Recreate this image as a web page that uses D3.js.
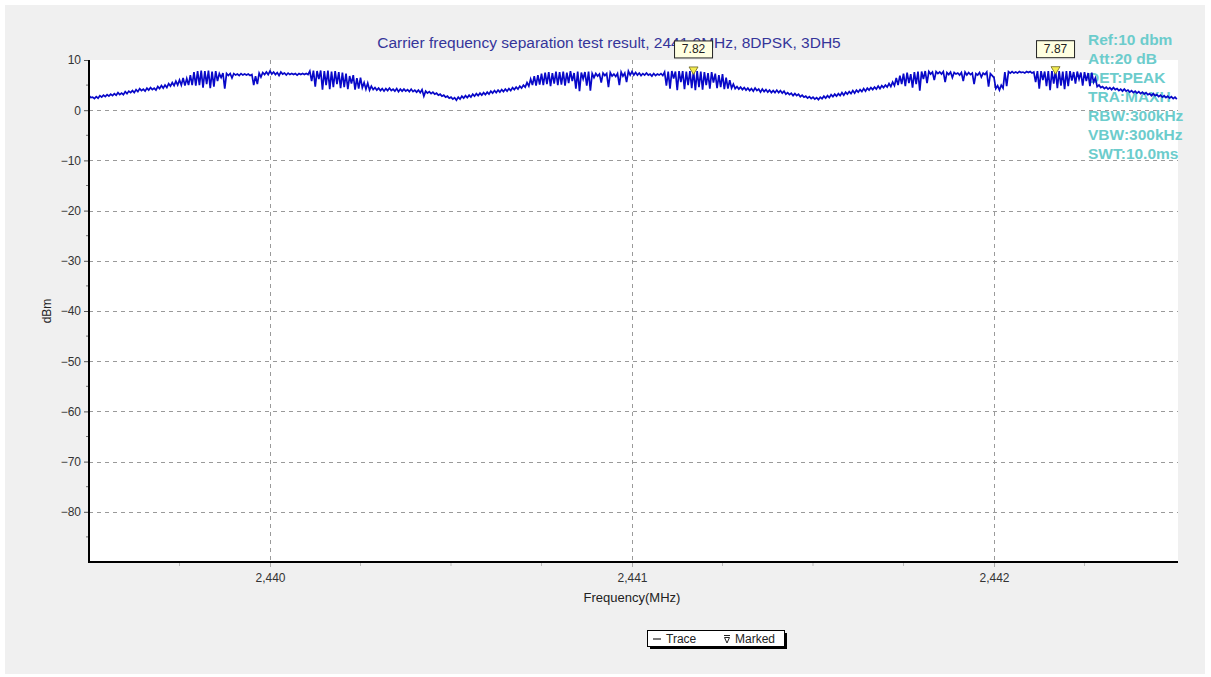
<!DOCTYPE html>
<html>
<head>
<meta charset="utf-8">
<script src="https://cdn.jsdelivr.net/npm/d3@7"></script>
<style>
  body { margin: 0; background: #ffffff; }
  svg { display: block; }
  text { font-family: Arial, "Liberation Sans", sans-serif; }
</style>
</head>
<body>
<svg id="chart" width="1211" height="677"></svg>
<script>
// Sweep: one bin every 10 kHz starting at 2439.50 MHz
const freqStart = 2439.5;
const freqStep = 0.01;

// Per-bin peak (high) and trough (low) levels of the max-hold trace, dBm
const traceHigh = [
  2.9,2.6,2.7,2.9,3.0,3.1,3.2,3.3,3.5,3.4,
  3.7,3.8,3.9,4.1,4.3,4.2,4.4,4.5,4.4,4.7,
  4.9,5.0,5.3,5.5,5.8,6.0,6.4,6.3,7.0,7.6,
  7.8,7.9,7.8,7.9,7.7,7.8,7.3,7.4,7.3,7.3,
  7.3,7.2,7.3,7.2,7.2,7.1,6.8,7.4,7.5,7.6,
  7.8,7.6,7.5,7.6,7.4,7.4,7.3,7.3,7.3,7.3,
  7.3,7.8,7.9,7.8,7.9,7.8,7.9,7.7,7.8,7.6,
  7.5,7.3,6.8,7.0,6.4,6.5,5.5,5.4,4.8,4.5,
  4.4,4.3,4.3,4.4,4.2,4.3,4.2,4.2,4.1,4.2,
  4.0,4.0,4.1,3.8,3.7,3.6,3.4,3.2,3.0,2.8,
  2.6,2.5,2.6,2.8,2.9,3.0,3.2,3.3,3.4,3.5,
  3.6,3.8,3.9,4.0,4.1,4.2,4.3,4.5,4.6,4.8,
  5.0,5.5,6.2,6.8,7.0,7.3,7.5,7.6,7.4,7.7,
  7.6,7.7,7.5,7.8,7.4,7.7,7.5,7.6,7.7,7.3,
  7.3,7.2,7.4,7.3,7.5,7.2,7.3,7.6,7.4,7.8,
  7.7,7.5,7.4,7.3,7.4,7.2,7.3,7.2,7.3,7.6,
  7.7,7.8,7.7,7.8,7.8,7.7,7.8,7.82,7.8,7.7,
  7.6,7.4,7.6,7.3,7.0,7.2,6.5,6.0,5.2,4.7,
  4.6,4.5,4.4,4.3,4.4,4.2,4.2,4.1,4.0,3.9,
  4.0,3.9,3.8,3.5,3.4,3.3,3.2,3.0,2.8,2.7,
  2.6,2.5,2.6,2.8,2.9,3.1,3.2,3.3,3.5,3.6,
  3.7,3.9,4.0,4.1,4.3,4.4,4.5,4.6,4.8,4.9,
  5.0,5.3,5.6,6.4,6.9,7.3,7.5,7.2,7.6,7.7,
  7.7,7.8,7.7,7.6,7.7,7.6,7.7,7.5,7.6,7.5,
  7.4,7.5,7.6,7.5,7.4,7.3,7.5,7.4,7.6,7.3,
  6.5,4.9,5.0,7.6,7.7,7.7,7.6,7.7,7.6,7.7,
  7.7,7.6,7.8,7.8,7.7,7.8,7.8,7.87,7.8,7.7,
  7.8,7.8,7.6,7.7,7.5,7.6,7.4,7.5,6.4,5.0,
  4.7,4.6,4.5,4.5,4.3,4.2,4.2,4.0,3.9,3.8,
  3.7,3.6,3.5,3.3,3.3,3.1,3.0,2.9,2.8,2.7,2.6
];
const traceLow = [
  2.5,2.3,2.4,2.6,2.7,2.8,2.9,3.0,3.1,3.1,
  3.3,3.5,3.5,3.7,3.9,3.8,4.0,4.1,4.0,4.3,
  4.4,4.5,4.8,4.9,5.0,5.0,4.9,5.0,5.0,4.9,
  5.0,4.5,5.2,4.4,4.7,5.8,6.5,4.3,6.9,6.4,
  7.0,6.9,7.0,7.0,6.9,5.0,5.2,6.6,7.1,7.1,
  7.2,7.1,6.9,7.2,7.0,7.1,7.1,7.0,7.1,7.1,
  7.1,5.8,4.7,6.2,4.1,5.0,4.2,4.6,5.2,4.4,
  4.6,4.2,5.3,4.1,4.3,4.5,4.2,4.0,4.1,4.0,
  3.9,3.8,3.9,3.9,3.8,3.7,3.8,3.8,3.7,3.7,
  3.6,3.5,2.8,3.4,3.3,3.2,3.0,2.8,2.6,2.4,
  2.2,2.0,2.2,2.4,2.5,2.6,2.8,2.9,3.0,3.1,
  3.2,3.4,3.5,3.6,3.7,3.8,3.9,4.1,4.2,4.4,
  4.6,4.8,5.0,4.9,5.1,5.0,5.2,4.8,5.3,5.0,
  5.1,4.9,5.4,5.8,4.3,3.8,6.2,4.9,3.9,6.5,
  6.8,5.5,6.9,4.6,6.8,6.7,5.0,6.8,5.6,7.0,
  7.0,7.0,6.9,7.0,7.0,6.8,6.9,7.0,6.9,4.9,
  4.3,6.3,4.0,5.6,4.2,5.0,4.4,4.0,4.6,4.1,
  5.0,4.3,5.5,4.4,4.6,4.2,4.3,4.4,4.3,4.2,
  4.1,4.0,3.9,3.8,3.9,3.6,3.7,3.6,3.5,3.5,
  3.5,3.4,3.2,3.1,2.9,2.9,2.7,2.6,2.4,2.3,
  2.2,2.1,2.3,2.4,2.5,2.7,2.8,2.9,3.0,3.2,
  3.3,3.4,3.6,3.7,3.8,4.0,4.1,4.2,4.3,4.5,
  4.6,4.7,4.9,5.0,5.2,4.8,5.4,4.5,5.2,3.9,
  6.2,5.4,7.2,6.0,7.3,7.2,5.6,7.1,6.5,7.2,
  7.0,5.8,7.0,7.1,5.2,7.0,6.6,7.1,4.7,6.9,
  4.3,4.0,4.4,4.8,7.4,7.4,7.4,7.5,7.4,7.5,
  7.4,5.6,4.3,6.0,4.8,4.0,5.3,4.4,4.9,4.2,
  4.8,5.9,5.3,6.2,4.9,5.8,4.8,5.6,4.7,4.5,
  4.3,4.2,4.1,4.1,3.9,3.8,3.8,3.6,3.5,3.4,
  3.3,3.2,3.1,2.9,2.9,2.7,2.6,2.5,2.4,2.3,2.2
];

// Peak markers
const markerFreqs = [2441.17, 2442.17];
const markerValues = [7.82, 7.87];

// Axis ticks
const xTicks = [2440, 2441, 2442];
const xMinorTicks = [2439.75, 2440.25, 2440.5, 2440.75, 2441.25, 2441.5, 2441.75, 2442.25];
const yTicks = [10, 0, -10, -20, -30, -40, -50, -60, -70, -80];
const yMinorTicks = [5, -5, -15, -25, -35, -45, -55, -65, -75, -85];

// Texts
const titleText = "Carrier frequency separation test result, 2441.0MHz, 8DPSK, 3DH5";
const xLabel = "Frequency(MHz)";
const yLabel = "dBm";
const infoLines = ["Ref:10 dbm", "Att:20 dB", "DET:PEAK", "TRA:MAXH", "RBW:300kHz", "VBW:300kHz", "SWT:10.0ms"];
const legendItems = ["Trace", "Marked"];

const svg = d3.select("#chart");

const plot = { left: 89, right: 1178, top: 60, bottom: 562 };
const x = d3.scaleLinear().domain([2439.5, 2442.5]).range([89, 1175]);
const y = d3.scaleLinear().domain([-90, 10]).range([plot.bottom, plot.top]);

// Panel background
svg.append("rect").attr("x", 5).attr("y", 5).attr("width", 1200).attr("height", 669)
  .attr("fill", "#f0f0f0");

// Plot area
svg.append("rect").attr("x", plot.left).attr("y", plot.top)
  .attr("width", plot.right - plot.left).attr("height", plot.bottom - plot.top)
  .attr("fill", "#ffffff");

// Grid
const grid = svg.append("g").attr("stroke", "#9a9a9a").attr("stroke-width", 1)
  .attr("stroke-dasharray", "4,4").attr("fill", "none");
grid.selectAll("line.h").data(yTicks.filter(v => v < 10)).join("line")
  .attr("x1", plot.left).attr("x2", plot.right)
  .attr("y1", d => Math.round(y(d)) + 0.5).attr("y2", d => Math.round(y(d)) + 0.5);
grid.selectAll("line.v").data(xTicks).join("line")
  .attr("x1", d => Math.round(x(d)) + 0.5).attr("x2", d => Math.round(x(d)) + 0.5)
  .attr("y1", plot.top).attr("y2", plot.bottom);

// Instrument settings
svg.append("g").selectAll("text").data(infoLines).join("text")
  .attr("x", 1088).attr("y", (d, i) => 45 + i * 19)
  .attr("font-size", 15.5).attr("font-weight", "bold").attr("fill", "#6ccccc")
  .text(d => d);

// Trace: each bin contributes its peak then its trough
const tracePts = [];
traceHigh.forEach((hi, i) => {
  const f = freqStart + i * freqStep;
  tracePts.push([f, hi]);
  tracePts.push([f + freqStep / 2, traceLow[i]]);
});
svg.append("path").datum(tracePts)
  .attr("fill", "none").attr("stroke", "#0808c8").attr("stroke-width", 1.7)
  .attr("stroke-linejoin", "miter")
  .attr("d", d3.line().x(d => x(d[0])).y(d => y(d[1])));

// Axes
const yAxis = d3.axisLeft(y).tickValues(yTicks).tickSize(5).tickPadding(3);
const yg = svg.append("g").attr("transform", `translate(${plot.left},0)`).call(yAxis);
yg.select(".domain").remove();
yg.selectAll(".tick line").attr("stroke", "#555");
yg.selectAll(".tick text").attr("font-size", 12).attr("fill", "#333")
  .attr("font-family", "Arial, 'Liberation Sans', sans-serif");

svg.append("g").selectAll("line").data(yMinorTicks).join("line")
  .attr("x1", plot.left - 3).attr("x2", plot.left)
  .attr("y1", d => y(d)).attr("y2", d => y(d)).attr("stroke", "#777");

const xAxis = d3.axisBottom(x).tickValues(xTicks).tickFormat(d3.format(",")).tickSize(5).tickPadding(6);
const xg = svg.append("g").attr("transform", `translate(0,${plot.bottom})`).call(xAxis);
xg.select(".domain").remove();
xg.selectAll(".tick line").attr("stroke", "#aaa");
xg.selectAll(".tick text").attr("font-size", 12).attr("fill", "#333")
  .attr("font-family", "Arial, 'Liberation Sans', sans-serif");

svg.append("g").selectAll("line").data(xMinorTicks).join("line")
  .attr("x1", d => x(d)).attr("x2", d => x(d))
  .attr("y1", plot.bottom).attr("y2", plot.bottom + 4).attr("stroke", "#bbb");

svg.append("line").attr("x1", plot.left).attr("x2", plot.left)
  .attr("y1", plot.top).attr("y2", plot.bottom + 1)
  .attr("stroke", "#000").attr("stroke-width", 2);
svg.append("line").attr("x1", plot.left - 1).attr("x2", plot.right)
  .attr("y1", plot.bottom).attr("y2", plot.bottom)
  .attr("stroke", "#000").attr("stroke-width", 2);

// Axis titles
svg.append("text").attr("x", 632).attr("y", 602).attr("text-anchor", "middle")
  .attr("font-size", 13).attr("fill", "#222").text(xLabel);
svg.append("text").attr("transform", "translate(51,311) rotate(-90)")
  .attr("text-anchor", "middle").attr("font-size", 12).attr("fill", "#222").text(yLabel);

// Title
svg.append("text").attr("x", 609).attr("y", 48).attr("text-anchor", "middle")
  .attr("font-size", 15.5).attr("fill", "#35359a").text(titleText);

// Markers
const markers = markerFreqs.map((f, i) => ({ f, v: markerValues[i] }));
const mg = svg.append("g").selectAll("g").data(markers).join("g")
  .attr("transform", d => `translate(${x(d.f)},${y(d.v)})`);
mg.append("path").attr("d", "M-4.5,-4L4.5,-4L0,3.5Z")
  .attr("fill", "#f4ec50").attr("stroke", "#6a6420").attr("stroke-width", 0.8);
mg.append("rect").attr("x", -19).attr("y", -30).attr("width", 38).attr("height", 17)
  .attr("fill", "#ffffe1").attr("stroke", "#222").attr("stroke-width", 1);
mg.append("text").attr("x", 0).attr("y", -17.5).attr("text-anchor", "middle")
  .attr("font-size", 12).attr("fill", "#222").text(d => d.v.toFixed(2));

// Legend
const lg = svg.append("g").attr("transform", "translate(647,630)");
lg.append("rect").attr("x", 3).attr("y", 3).attr("width", 137).attr("height", 16).attr("fill", "#000");
lg.append("rect").attr("x", 0.5).attr("y", 0.5).attr("width", 137).attr("height", 16)
  .attr("fill", "#ffffff").attr("stroke", "#000");
lg.append("line").attr("x1", 6).attr("x2", 14).attr("y1", 9).attr("y2", 9).attr("stroke", "#222").attr("stroke-width", 1.2);
lg.append("text").attr("x", 19).attr("y", 13).attr("font-size", 12).attr("fill", "#222").text(legendItems[0]);
lg.append("path").attr("d", "M77,5.5L83,5.5M77.5,7.5L82.5,7.5L80,13Z")
  .attr("fill", "none").attr("stroke", "#222").attr("stroke-width", 1);
lg.append("text").attr("x", 88).attr("y", 13).attr("font-size", 12).attr("fill", "#222").text(legendItems[1]);
</script>
</body>
</html>
